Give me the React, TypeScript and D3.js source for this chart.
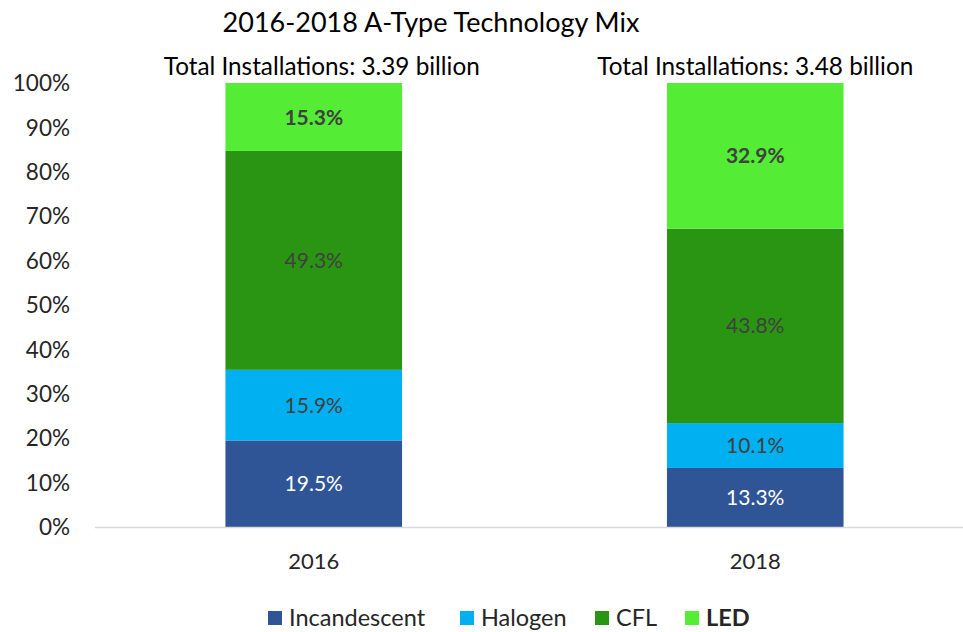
import { useEffect, useRef } from "react";
import * as d3 from "d3";

const years = ["2016", "2018"];
const totals = ["3.39", "3.48"];
const techs = ["Incandescent", "Halogen", "CFL", "LED"];
const incandescent = [19.5, 13.3];
const halogen = [15.9, 10.1];
const cfl = [49.3, 43.8];
const led = [15.3, 32.9];
const yTicks = [0, 10, 20, 30, 40, 50, 60, 70, 80, 90, 100];

const colors = ["#2f5597", "#00b0f0", "#2a9512", "#54ec35"];
const labelColors = ["#ffffff", "#404040", "#404040", "#404040"];
const FONT = "Lato, 'Open Sans', sans-serif";

export default function App() {
  const ref = useRef<SVGSVGElement>(null);

  useEffect(() => {
    const svg = d3.select(ref.current);
    svg.selectAll("*").remove();

    const rows = years.map((y, i) => ({
      year: y,
      Incandescent: incandescent[i],
      Halogen: halogen[i],
      CFL: cfl[i],
      LED: led[i],
    }));

    const x = d3.scaleBand().domain(years).range([93, 976]).paddingInner(0.6).paddingOuter(0.3);
    const y = d3.scaleLinear().domain([0, 100]).range([527, 83]);

    const stack = d3.stack<any>().keys(techs)(rows);

    // title
    svg
      .append("text")
      .attr("x", 431)
      .attr("y", 32)
      .attr("text-anchor", "middle")
      .attr("font-size", 27)
      .attr("fill", "#000")
      .text("2016-2018 A-Type Technology Mix");

    // y axis labels
    svg
      .append("g")
      .selectAll("text")
      .data(yTicks)
      .join("text")
      .attr("x", 70)
      .attr("y", (d) => y(d))
      .attr("dy", "0.36em")
      .attr("text-anchor", "end")
      .attr("font-size", 22.5)
      .attr("fill", "#262626")
      .text((d) => d + "%");

    // bars
    stack.forEach((layer, k) => {
      const g = svg.append("g");
      g.selectAll("rect")
        .data(layer)
        .join("rect")
        .attr("x", (d: any) => x(d.data.year)!)
        .attr("width", x.bandwidth())
        .attr("y", (d: any) => y(Math.min(d[1], 100)))
        .attr("height", (d: any) => y(d[0]) - y(Math.min(d[1], 100)))
        .attr("fill", colors[k]);
      g.selectAll("text")
        .data(layer)
        .join("text")
        .attr("x", (d: any) => x(d.data.year)! + x.bandwidth() / 2)
        .attr("y", (d: any) => (y(d[0]) + y(Math.min(d[1], 100))) / 2)
        .attr("dy", "0.36em")
        .attr("text-anchor", "middle")
        .attr("font-size", 21)
        .attr("font-weight", techs[k] === "LED" ? "bold" : "normal")
        .attr("fill", labelColors[k])
        .text((d: any) => (d[1] - d[0]).toFixed(1) + "%");
    });

    // baseline
    svg
      .append("line")
      .attr("x1", 95)
      .attr("x2", 963)
      .attr("y1", 527.5)
      .attr("y2", 527.5)
      .attr("stroke", "#d9d9d9")
      .attr("stroke-width", 1.5);

    // totals above bars
    svg
      .append("g")
      .selectAll("text")
      .data(years)
      .join("text")
      .attr("x", (d, i) => x(d)! + x.bandwidth() / 2 + (i === 0 ? 8 : 0))
      .attr("y", 75)
      .attr("text-anchor", "middle")
      .attr("font-size", 24.3)
      .attr("fill", "#000")
      .text((d, i) => `Total Installations: ${totals[i]} billion`);

    // x labels
    svg
      .append("g")
      .selectAll("text")
      .data(years)
      .join("text")
      .attr("x", (d) => x(d)! + x.bandwidth() / 2)
      .attr("y", 569)
      .attr("text-anchor", "middle")
      .attr("font-size", 22)
      .attr("fill", "#262626")
      .text((d) => d);

    // legend
    const legendX = [268, 460, 595, 685];
    const lg = svg.append("g");
    techs.forEach((t, i) => {
      lg.append("rect")
        .attr("x", legendX[i])
        .attr("y", 611)
        .attr("width", 14)
        .attr("height", 14)
        .attr("fill", colors[i]);
      lg.append("text")
        .attr("x", legendX[i] + 21)
        .attr("y", 626)
        .attr("font-size", 23.5)
        .attr("font-weight", t === "LED" ? "bold" : "normal")
        .attr("fill", "#262626")
        .text(t);
    });
  }, []);

  return (
    <svg
      ref={ref}
      width={963}
      height={632}
      style={{ display: "block", position: "absolute", left: 0, top: 0, fontFamily: FONT, background: "#fff" }}
    />
  );
}
